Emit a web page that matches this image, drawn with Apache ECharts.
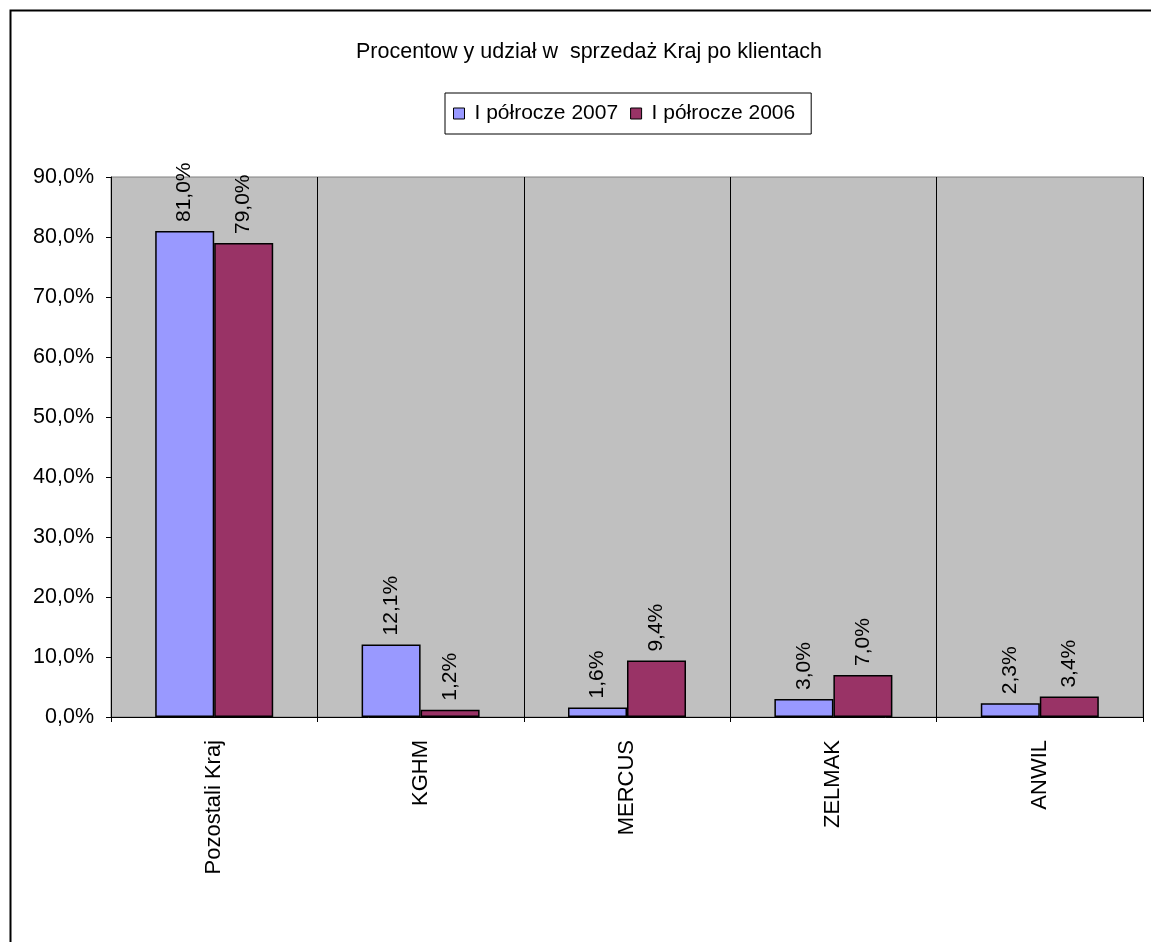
<!DOCTYPE html>
<html>
<head>
<meta charset="utf-8">
<script src="https://cdn.jsdelivr.net/npm/echarts@6/dist/echarts.min.js"></script>
<style>
  html, body { margin: 0; padding: 0; background: #fff; }
  #chart { width: 1151px; height: 942px; }
</style>
</head>
<body>
<div id="chart"></div>
<script>
// dane z wykresu
const categories = ['Pozostali Kraj', 'KGHM', 'MERCUS', 'ZELMAK', 'ANWIL']
const seriesNames = ['I półrocze 2007', 'I półrocze 2006']
const values2007 = [81.0, 12.1, 1.6, 3.0, 2.3]
const values2006 = [79.0, 1.2, 9.4, 7.0, 3.4]
const colors = ['#9999FF', '#993366']

const FONT = 'Liberation Sans, Arial, sans-serif'

// 81.0 -> "81,0%"
const fmt = (v) => v.toFixed(1).replace('.', ',') + '%'

const myChart = echarts.init(document.getElementById('chart'))

const makeSeries = (name, data, color) => ({
  name: name,
  type: 'bar',
  data: data,
  barWidth: 59,
  barGap: '0%',
  itemStyle: {
    color: color,
    borderColor: '#000',
    borderWidth: 1.5,
  },
  // etykiety obrócone pionowo nad słupkami
  label: {
    show: true,
    position: 'top',
    rotate: 90,
    align: 'left',
    verticalAlign: 'middle',
    distance: 9,
    color: '#000',
    fontFamily: FONT,
    fontSize: 21,
    formatter: (p) => fmt(p.value),
  },
})

const options = {
  animation: false,
  backgroundColor: '#fff',
  textStyle: { fontFamily: FONT },
  title: {
    text: 'Procentow y udział w  sprzedaż Kraj po klientach',
    left: 351,
    top: 36,
    textStyle: {
      fontFamily: FONT,
      fontSize: 21.5,
      fontWeight: 'normal',
      color: '#000',
    },
  },
  legend: {
    left: 445,
    top: 93,
    itemWidth: 11,
    itemHeight: 11,
    itemGap: 12,
    icon: 'rect',
    borderColor: '#000',
    borderWidth: 1,
    padding: [10, 16, 10, 8],
    data: seriesNames,
    itemStyle: { borderColor: '#000', borderWidth: 1 },
    textStyle: {
      fontFamily: FONT,
      fontSize: 21,
      color: '#000',
      padding: [0, 0, 0, 5],
    },
  },
  grid: {
    left: 111,
    right: 8,
    top: 177,
    bottom: 225,
    show: true,
    backgroundColor: '#C0C0C0',
    borderColor: '#808080',
    borderWidth: 1,
  },
  xAxis: {
    type: 'category',
    data: categories,
    axisLine: { lineStyle: { color: '#000', width: 1 } },
    axisTick: { show: true, length: 5, interval: 0, lineStyle: { color: '#000' } },
    splitLine: { show: true, interval: 0, lineStyle: { color: '#000', width: 1 } },
    axisLabel: {
      rotate: 90,
      interval: 0,
      margin: 23,
      color: '#000',
      fontFamily: FONT,
      fontSize: 22,
    },
  },
  yAxis: {
    type: 'value',
    min: 0,
    max: 90,
    interval: 10,
    axisLine: { show: true, lineStyle: { color: '#000', width: 1 } },
    axisTick: { show: true, length: 5, lineStyle: { color: '#000' } },
    splitLine: { show: false },
    axisLabel: {
      margin: 17,
      color: '#000',
      fontFamily: FONT,
      fontSize: 21.5,
      formatter: (v) => fmt(v),
    },
  },
  // ramka całego obszaru wykresu (wychodzi poza kadr po prawej i na dole)
  graphic: [
    {
      type: 'rect',
      left: 8,
      top: 8,
      shape: { width: 1200, height: 1000 },
      style: { fill: 'none', stroke: '#000', lineWidth: 2 },
      silent: true,
      z: 100,
    },
  ],
  series: [
    makeSeries(seriesNames[0], values2007, colors[0]),
    makeSeries(seriesNames[1], values2006, colors[1]),
  ],
}

myChart.setOption(options)
</script>
</body>
</html>
